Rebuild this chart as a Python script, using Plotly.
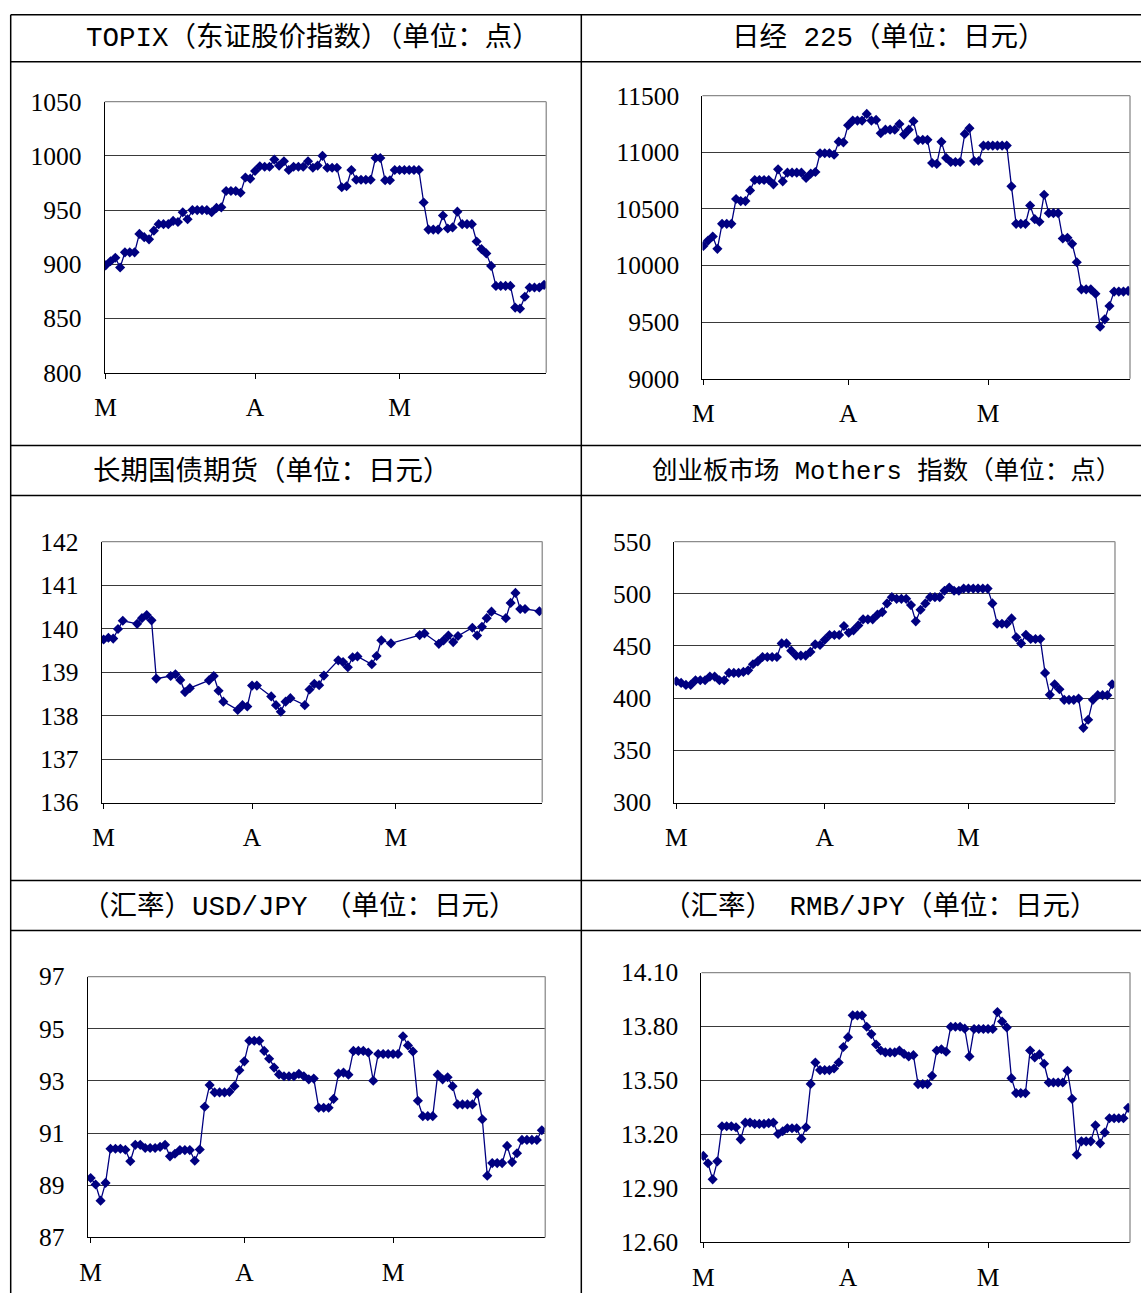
import plotly.graph_objects as go
import pandas as pd

W, H = 1141, 1308
# the photographed page shows up slightly scaled/offset: image = S * page + B
SX, BX = 0.99, 10.4
SY, BY = 0.978, 13.3

# ---------------- data ----------------
days = pd.date_range("2010-03-01", "2010-05-31", freq="D")
jgb_holidays = ["2010-03-22", "2010-04-29", "2010-05-03", "2010-05-04", "2010-05-05"]
jgb_days = [d for d in pd.bdate_range("2010-03-01", "2010-05-31")
            if d.strftime("%Y-%m-%d") not in jgb_holidays]

topix = [899, 902.8, 906, 897, 911, 911, 911, 928, 925, 923, 931, 937, 937, 937, 940, 939,
         948, 941.5, 950, 950, 950, 950, 948, 952, 952.5, 967.6, 967.6, 967.6, 966, 980, 979,
         986, 990.4, 990, 990, 996.6, 991, 995, 987, 990, 990, 990, 995, 989, 991, 1000,
         989, 989, 989, 971, 972, 987, 978, 978, 978, 978, 998, 998, 977.5, 977.5,
         987, 987, 987, 987, 987, 987, 957, 932, 932, 932, 945, 933, 934, 948.5, 937, 937, 937,
         921, 914, 910, 898.5, 880, 880, 880, 880, 860, 859, 870, 878.5, 878.5, 878.5, 881]

nikkei = [10173, 10220, 10256, 10147, 10368, 10368, 10368, 10587, 10569, 10569, 10663,
          10755, 10755, 10755, 10755, 10717, 10849, 10743, 10820, 10820, 10820, 10820,
          10773, 10811, 10826, 10991, 10991, 10991, 10979, 11094, 11088, 11239, 11280,
          11280, 11280, 11339, 11280, 11286, 11168, 11200, 11200, 11200, 11250, 11156,
          11200, 11274, 11108, 11110, 11110, 10905, 10897, 11092, 10950, 10914, 10914,
          10914, 11162, 11213, 10923, 10923, 11059, 11059, 11059, 11059, 11059, 11059,
          10699, 10368, 10368, 10368, 10530, 10409, 10386, 10625, 10462, 10462, 10462,
          10238, 10244, 10191, 10028, 9789, 9789, 9789, 9750, 9458, 9524, 9642, 9769,
          9769, 9769, 9775]

jgb = [139.75, 139.79, 139.77, 139.99, 140.18, 140.11, 140.24, 140.31, 140.19, 138.85,
       138.91, 138.95, 138.82, 138.54, 138.63, 138.81, 138.91, 138.57, 138.32, 138.13,
       138.24, 138.21, 138.69, 138.69, 138.44, 138.24, 138.09, 138.32, 138.40, 138.24,
       138.60, 138.73, 138.70, 138.92, 139.27, 139.23, 139.11, 139.34, 139.36, 139.18,
       139.37, 139.73, 139.66, 139.85, 139.89, 139.65, 139.73, 139.84, 139.69, 139.83,
       140.02, 139.84, 140.04, 140.24, 140.39, 140.24, 140.59, 140.82, 140.45, 140.45,
       140.40]

mothers = [416.2, 414.6, 412.7, 412.7, 417.2, 417.2, 417.2, 420.7, 420.7, 417.2, 417.2,
           424.2, 424.2, 424.2, 425.2, 426.7, 432.5, 435.3, 439.5, 439.5, 439.5, 439.5,
           452.5, 452.5, 445.5, 440.8, 440.8, 440.8, 444.3, 451.6, 451.0, 456.0, 460.5,
           460.5, 460.5, 469.1, 462.7, 465.0, 469.7, 475.5, 475.5, 475.5, 480.0, 482.5,
           490.8, 496.8, 495.2, 495.2, 495.2, 489.2, 473.6, 484.7, 490.8, 496.8, 496.8,
           496.8, 502.9, 506.0, 502.9, 502.9, 505, 505, 505, 505, 505, 505, 490.8, 471.3,
           471.3, 471.3, 476.4, 458.3, 452.5, 460.8, 456.7, 456.7, 456.7, 424.2, 403.2,
           413.4, 408.6, 398.4, 398.4, 398.4, 399.7, 371.6, 379.3, 398.4, 402.9, 402.9,
           402.9, 413.4]

usdjpy = [89.28, 89.03, 88.41, 89.09, 90.40, 90.40, 90.40, 90.36, 89.92, 90.55, 90.55,
          90.43, 90.43, 90.43, 90.47, 90.55, 90.11, 90.21, 90.35, 90.35, 90.35, 89.94,
          90.37, 92.01, 92.84, 92.56, 92.56, 92.56, 92.58, 92.80, 93.41, 93.75, 94.54,
          94.54, 94.54, 94.15, 93.85, 93.51, 93.25, 93.18, 93.18, 93.18, 93.27, 93.18,
          93.06, 93.09, 91.97, 91.97, 91.97, 92.31, 93.28, 93.32, 93.24, 94.15, 94.15,
          94.15, 94.09, 93.01, 94.03, 94.03, 94.03, 94.03, 94.03, 94.71, 94.36, 94.13,
          92.24, 91.65, 91.65, 91.65, 93.24, 93.06, 93.14, 92.80, 92.10, 92.10, 92.10,
          92.10, 92.52, 91.53, 89.37, 89.85, 89.85, 89.85, 90.51, 89.89, 90.23, 90.74,
          90.74, 90.74, 90.74, 91.11]

rmbjpy = [13.081, 13.040, 12.951, 13.051, 13.246, 13.246, 13.246, 13.240, 13.173, 13.266,
          13.266, 13.259, 13.259, 13.259, 13.263, 13.266, 13.203, 13.218, 13.235, 13.235,
          13.235, 13.177, 13.240, 13.481, 13.600, 13.558, 13.558, 13.558, 13.567, 13.600,
          13.686, 13.741, 13.862, 13.862, 13.862, 13.799, 13.758, 13.700, 13.667, 13.656,
          13.656, 13.656, 13.667, 13.648, 13.634, 13.641, 13.480, 13.480, 13.480, 13.526,
          13.667, 13.674, 13.660, 13.799, 13.799, 13.799, 13.788, 13.634, 13.786, 13.786,
          13.786, 13.786, 13.786, 13.880, 13.828, 13.795, 13.513, 13.430, 13.430, 13.430,
          13.667, 13.628, 13.645, 13.593, 13.489, 13.489, 13.489, 13.489, 13.554, 13.398,
          13.088, 13.162, 13.162, 13.162, 13.251, 13.151, 13.211, 13.290, 13.290, 13.290,
          13.290, 13.348]

titles = ["TOPIX（东证股价指数）（单位：点）", "日经 225（单位：日元）",
          "长期国债期货（单位：日元）", "创业板市场 Mothers 指数（单位：点）",
          "（汇率）USD/JPY （单位：日元）", "（汇率） RMB/JPY（单位：日元）"]
title_sizes = [27.5, 27.5, 27.5, 25.5, 27.5, 27.5]
month_ticks = ["2010-03-01", "2010-04-01", "2010-05-01"]
month_labels = ["M", "A", "M"]

ytick_sets = [
    [800, 850, 900, 950, 1000, 1050],
    [9000, 9500, 10000, 10500, 11000, 11500],
    [136, 137, 138, 139, 140, 141, 142],
    [300, 350, 400, 450, 500, 550],
    [87, 89, 91, 93, 95, 97],
    [12.6, 12.9, 13.2, 13.5, 13.8, 14.1],
]
ytick_text6 = ["12.60", "12.90", "13.20", "13.50", "13.80", "14.10"]

series = [(days, topix), (days, nikkei), (jgb_days, jgb), (days, mothers),
          (days, usdjpy), (days, rmbjpy)]

# plot-area boxes in reference pixels: x0, x1, ytop, ybottom, left pad (days), right pad (days)
boxes = [
    (105, 546, 101, 372, 0.2, 0.45),
    (702, 1129, 95, 378, 0.2, 0.4),
    (102, 542, 541, 802, 0.4, 0.6),
    (674, 1114, 541, 802, 0.4, 0.6),
    (88, 545, 976, 1237, 0.6, 0.7),
    (701, 1129, 972, 1242, 0.4, 0.4),
]
title_pos = [(313, 37), (888, 37), (272, 471), (886, 471), (300, 906), (880, 906)]


def px(x):
    return max(0.7, (x - BX) / SX) / W


def py(y):
    return 1 - max(0.7, (y - BY) / SY) / H


NAVY = "#000080"
TICKFONT = dict(family="Liberation Serif, DejaVu Serif, serif", size=25.5, color="black")
TITLEFAMILY = "Liberation Mono, Noto Sans CJK SC, sans-serif"

fig = go.Figure()
shapes = []
annotations = []

for i, ((xs, ys), (x0, x1, yt, yb, lp, rp), yt_vals) in enumerate(zip(series, boxes, ytick_sets)):
    n = "" if i == 0 else str(i + 1)
    fig.add_trace(go.Scatter(
        x=xs, y=ys, mode="lines+markers",
        line=dict(color=NAVY, width=1.3),
        marker=dict(symbol="diamond", size=7.8, color=NAVY),
        xaxis="x" + n, yaxis="y" + n, showlegend=False, hoverinfo="skip"))
    xstart = pd.Timestamp(xs[0]) - pd.Timedelta(days=lp)
    xend = pd.Timestamp(xs[-1]) + pd.Timedelta(days=rp)
    fig.update_layout(**{
        "xaxis" + n: dict(
            domain=[px(x0), px(x1)], anchor="y" + n, type="date",
            range=[xstart, xend], tickvals=month_ticks, ticktext=month_labels,
            ticks="outside", ticklen=5, tickcolor="black", showgrid=False,
            showline=True, linecolor="black", linewidth=1, zeroline=False,
            tickfont=TICKFONT, ticklabelstandoff=7, fixedrange=True),
        "yaxis" + n: dict(
            domain=[py(yb), py(yt)], anchor="x" + n,
            range=[yt_vals[0], yt_vals[-1]], tickvals=yt_vals,
            ticktext=ytick_text6 if i == 5 else [str(v) for v in yt_vals],
            ticks="", showgrid=True, gridcolor="#3a3a3a", gridwidth=1,
            showline=True, linecolor="black", linewidth=1, zeroline=False,
            tickfont=TICKFONT, ticklabelstandoff=17, fixedrange=True),
    })
    # light grey plot-area frame (top / right)
    shapes.append(dict(type="line", xref="paper", yref="paper",
                       x0=px(x0), x1=px(x1), y0=py(yt), y1=py(yt),
                       line=dict(color="#8c8c8c", width=1.2), layer="above"))
    shapes.append(dict(type="line", xref="paper", yref="paper",
                       x0=px(x1), x1=px(x1), y0=py(yb), y1=py(yt),
                       line=dict(color="#9a9a9a", width=1.5), layer="above"))
    tx, ty = title_pos[i]
    annotations.append(dict(text=titles[i], x=px(tx), y=py(ty), xref="paper", yref="paper",
                            showarrow=False, xanchor="center", yanchor="middle",
                            font=dict(family=TITLEFAMILY, size=title_sizes[i], color="black")))

# table frame lines (reference pixels)
hlines = [12, 61, 445, 495, 880, 930]
for y in hlines:
    shapes.append(dict(type="line", xref="paper", yref="paper", x0=px(8), x1=1.0,
                       y0=py(y), y1=py(y), line=dict(color="black", width=1.5)))
for x in [8, 581]:
    shapes.append(dict(type="line", xref="paper", yref="paper", x0=px(x), x1=px(x),
                       y0=0, y1=py(12), line=dict(color="black", width=1.5)))

fig.update_layout(width=W, height=H, margin=dict(l=0, r=0, t=0, b=0),
                  paper_bgcolor="white", plot_bgcolor="white",
                  shapes=shapes, annotations=annotations)

fig.write_html("out.html", post_script="document.body.style.margin='0';",
               config={"displayModeBar": False})
